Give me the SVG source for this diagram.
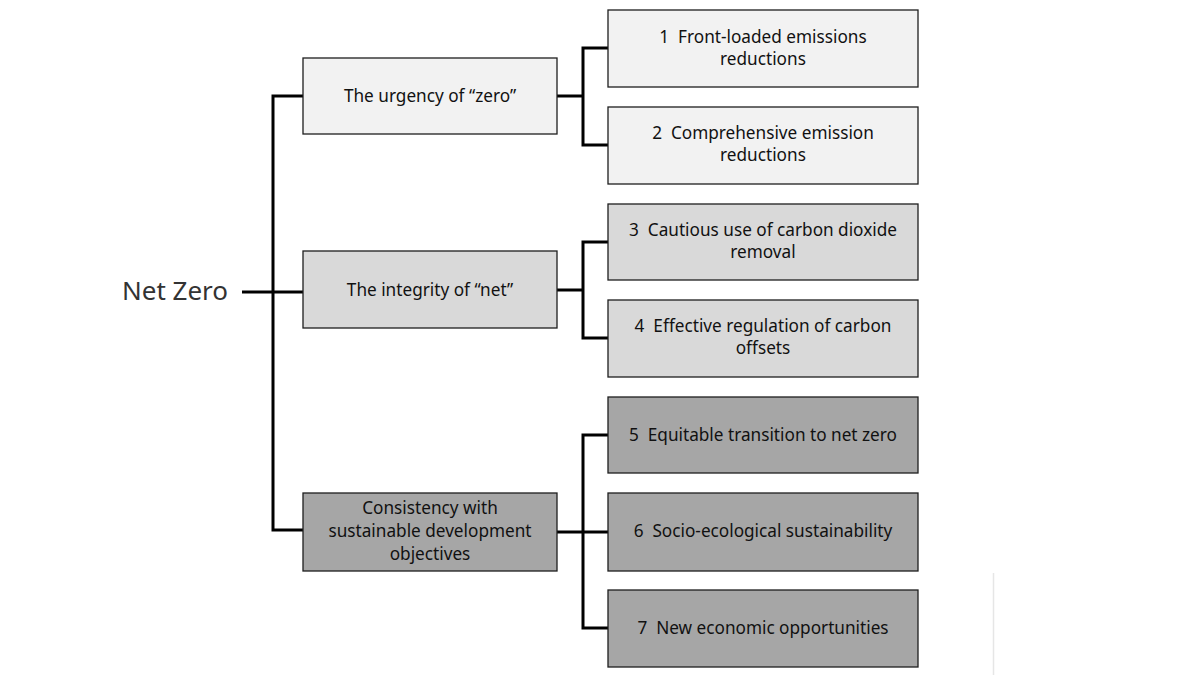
<svg xmlns="http://www.w3.org/2000/svg" width="1200" height="675" viewBox="0 0 1200 675">
<style>
.box{stroke:#1e1e1e;stroke-width:1.3}
.l1{fill:#f2f2f2}.l2{fill:#d9d9d9}.l3{fill:#a6a6a6}
text{font-family:"Noto Sans","Open Sans",sans-serif;font-size:17.2px;fill:#111;text-anchor:middle}
.conn{fill:none;stroke:#000;stroke-width:3}
</style>
<rect width="1200" height="675" fill="#fff"/>
<g id="root"><text x="175" y="300" style="font-size:26px;fill:#333">Net Zero</text></g>
<g id="connectors" class="conn">
<path d="M242 292H303M303 96H273V530H303"/>
<path d="M557 96H583M608 48H583V145H608"/>
<path d="M557 290H583M608 242H583V338H608"/>
<path d="M557 532H608M608 435H583V628H608"/>
</g>
<g id="mid1"><rect class="box l1" x="303" y="58" width="254" height="76"/><text x="430" y="102">The urgency of “zero”</text></g>
<g id="mid2"><rect class="box l2" x="303" y="251" width="254" height="77"/><text x="430" y="296">The integrity of “net”</text></g>
<g id="mid3"><rect class="box l3" x="303" y="493" width="254" height="78"/><text x="430" y="514">Consistency with</text><text x="430" y="537">sustainable development</text><text x="430" y="560">objectives</text></g>
<g id="c1"><rect class="box l1" x="608" y="10" width="310" height="77"/><text x="763" y="43">1&#160; Front-loaded emissions</text><text x="763" y="65">reductions</text></g>
<g id="c2"><rect class="box l1" x="608" y="107" width="310" height="77"/><text x="763" y="139">2&#160; Comprehensive emission</text><text x="763" y="161">reductions</text></g>
<g id="c3"><rect class="box l2" x="608" y="204" width="310" height="76"/><text x="763" y="236">3&#160; Cautious use of carbon dioxide</text><text x="763" y="258">removal</text></g>
<g id="c4"><rect class="box l2" x="608" y="300" width="310" height="77"/><text x="763" y="332">4&#160; Effective regulation of carbon</text><text x="763" y="354">offsets</text></g>
<g id="c5"><rect class="box l3" x="608" y="397" width="310" height="76"/><text x="763" y="441">5&#160; Equitable transition to net zero</text></g>
<g id="c6"><rect class="box l3" x="608" y="493" width="310" height="78"/><text x="763" y="537">6&#160; Socio-ecological sustainability</text></g>
<g id="c7"><rect class="box l3" x="608" y="590" width="310" height="77"/><text x="763" y="634">7&#160; New economic opportunities</text></g>
<line x1="993.5" y1="573" x2="993.5" y2="675" stroke="#e6e6e6" stroke-width="1.5"/>
</svg>
